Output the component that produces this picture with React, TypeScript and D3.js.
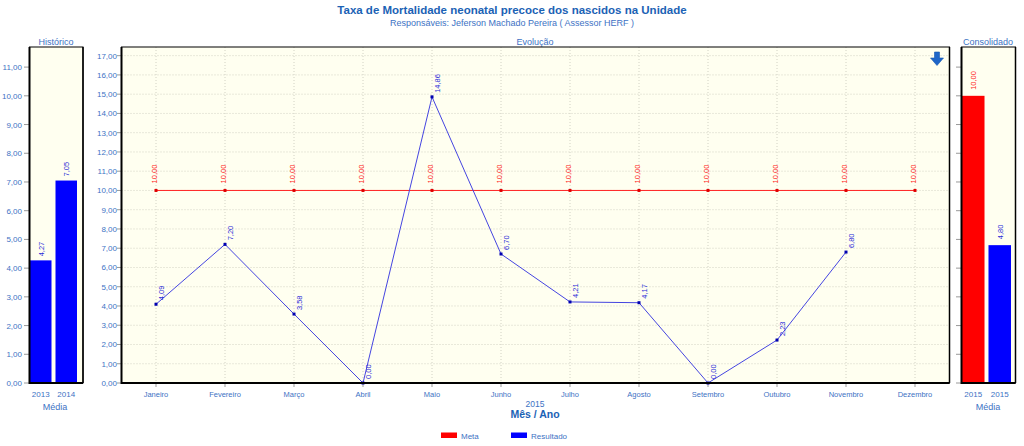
import React from "react";
import * as d3 from "d3";

const months = ["Janeiro","Fevereiro","Março","Abril","Maio","Junho","Julho","Agosto","Setembro","Outubro","Novembro","Dezembro"];
const resultado: (number | null)[] = [4.09, 7.20, 3.58, 0.00, 14.86, 6.70, 4.21, 4.17, 0.00, 2.23, 6.80, null];
const meta = [10, 10, 10, 10, 10, 10, 10, 10, 10, 10, 10, 10];
const histYears = ["2013", "2014"];
const histValues = [4.27, 7.05];
const consLabels = ["2015", "2015"];
const consValues = [10.00, 4.80];
const consColors = ["#ff0000", "#0000ff"];
const mainTicks = d3.range(0, 18, 1);
const sideTicks = d3.range(0, 12, 1);

const AXIS = "#3d72c4";
const TITLE = "#1b62b5";
const FONT = "'Liberation Sans', Arial, sans-serif";
const fmt = (v: number) => v.toFixed(2).replace(".", ",");

export default function App() {
  const top = 47, bottom = 383;
  const yMain = d3.scaleLinear().domain([0, 17.45]).range([bottom, top]);
  const ySide = d3.scaleLinear().domain([0, 11.7]).range([bottom, top]);
  const xMain = d3.scalePoint<string>().domain(months).range([121.5, 949.5]).padding(0.5);
  const xHist = d3.scaleBand<number>().domain([0, 1]).range([30, 77]).paddingInner(0.157);
  const xCons = d3.scaleBand<number>().domain([0, 1]).range([962, 1011]).paddingInner(0.15);

  const lineGen = d3.line<number | null>()
    .defined((d) => d !== null)
    .x((_, i) => xMain(months[i])!)
    .y((d) => yMain(d as number));
  const metaLine = d3.line<number>().x((_, i) => xMain(months[i])!).y((d) => yMain(d));

  const panel = (x0: number, x1: number) => (
    <rect x={x0} y={top} width={x1 - x0} height={bottom - top} fill="#fffff0" />
  );
  const frame = (x0: number, x1: number) => (
    <g>
      <rect x={x0} y={top} width={x1 - x0} height={bottom - top} fill="none" stroke="#000" strokeWidth={1} />
      <line x1={x0} x2={x0} y1={top} y2={bottom + 1} stroke="#000" strokeWidth={2} />
      <line x1={x0} x2={x1} y1={bottom} y2={bottom} stroke="#000" strokeWidth={2} />
      <line x1={x1} x2={x1} y1={top} y2={bottom} stroke="#000" strokeWidth={1.5} />
    </g>
  );

  return (
    <svg width={1024} height={446} style={{ position: "absolute", left: 0, top: 0, background: "#fff" }} fontFamily={FONT}>
      <rect width={1024} height={446} fill="#fff" />
      <text x={512} y={14} textAnchor="middle" fontSize={11.5} fontWeight="bold" fill={TITLE}>Taxa de Mortalidade neonatal precoce dos nascidos na Unidade</text>
      <text x={512} y={26} textAnchor="middle" fontSize={9} fill={AXIS}>Responsáveis: Jeferson Machado Pereira ( Assessor HERF )</text>

      {/* panel titles */}
      <text x={56} y={45} textAnchor="middle" fontSize={9} fill={AXIS}>Histórico</text>
      <text x={535} y={45} textAnchor="middle" fontSize={9} fill={AXIS}>Evolução</text>
      <text x={988} y={45} textAnchor="middle" fontSize={9} fill={AXIS}>Consolidado</text>

      {/* Historico */}
      {panel(29.5, 83)}
      {sideTicks.map((t) => (
        <g key={"hs" + t}>
          <line x1={24} x2={29.5} y1={ySide(t)} y2={ySide(t)} stroke="#999" />
          <text x={22} y={ySide(t) + 3} textAnchor="end" fontSize={8} fill={AXIS}>{fmt(t)}</text>
        </g>
      ))}
      {histValues.map((v, i) => (
        <g key={"hb" + i}>
          <rect x={xHist(i)} y={ySide(v)} width={xHist.bandwidth()} height={bottom - ySide(v)} fill="#0000ff" />
          <text transform={`translate(${xHist(i)! + xHist.bandwidth() / 2 + 3},${ySide(v) - 4}) rotate(-90)`} fontSize={7.5} fill="#2b2bd8">{fmt(v)}</text>
          <text x={xHist(i)! + xHist.bandwidth() / 2} y={397} textAnchor="middle" fontSize={8} fill={AXIS}>{histYears[i]}</text>
        </g>
      ))}
      {frame(29.5, 83)}
      <text x={55} y={410} textAnchor="middle" fontSize={9} fill={AXIS}>Média</text>

      {/* Main */}
      {panel(121.5, 949.5)}
      {mainTicks.map((t) => (
        <g key={"mg" + t}>
          <line x1={121.5} x2={949.5} y1={yMain(t)} y2={yMain(t)} stroke="#d2d2c4" strokeDasharray="1,2" />
          <line x1={117} x2={121.5} y1={yMain(t)} y2={yMain(t)} stroke="#999" />
          <text x={117} y={yMain(t) + 3} textAnchor="end" fontSize={8} fill={AXIS}>{fmt(t)}</text>
        </g>
      ))}
      {months.map((m) => (
        <g key={"mx" + m}>
          <line x1={xMain(m)} x2={xMain(m)} y1={top} y2={bottom} stroke="#d2d2c4" strokeDasharray="1,2" />
          <line x1={xMain(m)} x2={xMain(m)} y1={bottom} y2={bottom + 4} stroke="#999" />
          <text x={xMain(m)} y={397} textAnchor="middle" fontSize={7.5} fill={AXIS}>{m}</text>
        </g>
      ))}
      <path d={metaLine(meta) || ""} fill="none" stroke="#ff2020" strokeWidth={1} />
      {meta.map((v, i) => (
        <g key={"mm" + i}>
          <rect x={xMain(months[i])! - 1.5} y={yMain(v) - 1.5} width={3} height={3} fill="#e00000" />
          <text transform={`translate(${xMain(months[i])! + 0.5},${yMain(v) - 7}) rotate(-90)`} fontSize={7.5} fill="#ff2020">{fmt(v)}</text>
        </g>
      ))}
      <path d={lineGen(resultado) || ""} fill="none" stroke="#4545e0" strokeWidth={1} />
      {resultado.map((v, i) => v === null ? null : (
        <g key={"mr" + i}>
          <rect x={xMain(months[i])! - 1.5} y={yMain(v) - 1.5} width={3} height={3} fill="#0000b0" />
          <text transform={`translate(${xMain(months[i])! + 8},${yMain(v) - 4}) rotate(-90)`} fontSize={7.5} fill="#2b2bd8">{fmt(v)}</text>
        </g>
      ))}
      {frame(121.5, 949.5)}
      {/* arrow icon */}
      <path d="M934.5,52 h5 v6 h4 l-6.5,7.5 l-6.5,-7.5 h4 z" fill="#1f66c8" stroke="#1557b0" strokeWidth={0.6} />
      <text x={535} y={407} textAnchor="middle" fontSize={8.5} fill={AXIS}>2015</text>
      <text x={535} y={418} textAnchor="middle" fontSize={10.5} fontWeight="bold" fill="#1b62b5">Mês / Ano</text>

      {/* Consolidado */}
      {panel(961.5, 1015.5)}
      {sideTicks.map((t) => (
        <line key={"cs" + t} x1={956} x2={961.5} y1={ySide(t)} y2={ySide(t)} stroke="#999" />
      ))}
      {consValues.map((v, i) => (
        <g key={"cb" + i}>
          <rect x={xCons(i)} y={ySide(v)} width={xCons.bandwidth()} height={bottom - ySide(v)} fill={consColors[i]} />
          <text transform={`translate(${xCons(i)! + xCons.bandwidth() / 2 + 3},${ySide(v) - 6}) rotate(-90)`} fontSize={7.5} fill={i === 0 ? "#ff2020" : "#2b2bd8"}>{fmt(v)}</text>
          <text x={xCons(i)! + xCons.bandwidth() / 2} y={397} textAnchor="middle" fontSize={8} fill={AXIS}>{consLabels[i]}</text>
        </g>
      ))}
      {frame(961.5, 1015.5)}
      <text x={988} y={410} textAnchor="middle" fontSize={9} fill={AXIS}>Média</text>

      {/* legend */}
      <rect x={441} y={432.5} width={16} height={5.5} fill="#ff0000" />
      <text x={461} y={438.5} fontSize={8} fill={AXIS}>Meta</text>
      <rect x={511} y={432.5} width={16} height={5.5} fill="#0000ff" />
      <text x={531} y={438.5} fontSize={8} fill={AXIS}>Resultado</text>
    </svg>
  );
}
